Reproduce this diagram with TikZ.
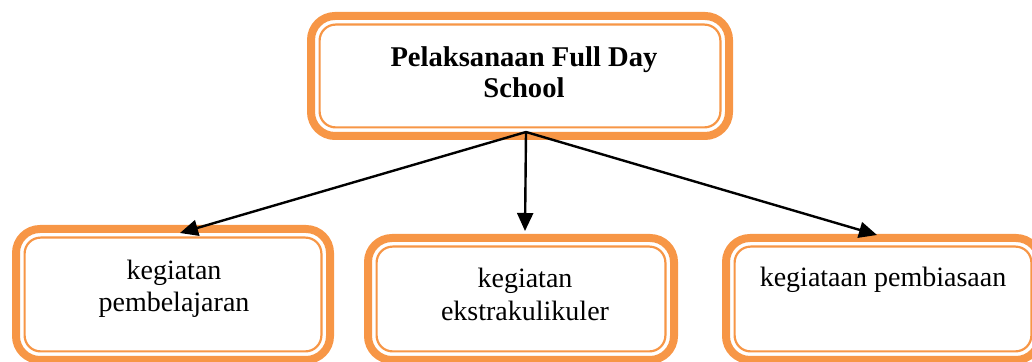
\documentclass[tikz,border=0pt]{standalone}
\usepackage{fontspec}
\setmainfont{Liberation Serif}
\usetikzlibrary{arrows.meta}
\definecolor{boxorange}{HTML}{F79646}
\tikzset{
  box/.style={draw=boxorange, line width=4pt, rounded corners=12pt, fill=white,
    inner sep=0pt, outer sep=0pt},
  innerline/.style={draw=boxorange, line width=1.1pt, rounded corners=8pt},
  lbl/.style={anchor=base, inner sep=0pt, font=\fontsize{14}{16}\selectfont},
  tlbl/.style={lbl, font=\fontsize{14.3}{16}\selectfont\bfseries},
  arr/.style={line width=1.2pt, -{Triangle[length=9pt,width=8pt]}}
}
\begin{document}
\begin{tikzpicture}[x=0.5pt,y=-0.5pt]
\useasboundingbox (0,0) rectangle (1032,362);
\clip (0,0) rectangle (1032,362);
% boxes
\node[box, minimum width=209pt, minimum height=60pt] (top) at (520,76) {};
\node[box, minimum width=157pt, minimum height=65.5pt] (left) at (173,294.5) {};
\node[box, minimum width=153pt, minimum height=61pt] (mid) at (521,299) {};
\node[box, minimum width=157pt, minimum height=61pt] (right) at (883,299) {};
\foreach \n in {top,left,mid,right}{
  \draw[innerline] ([xshift=4.3pt,yshift=-4.3pt]\n.north west) rectangle
                   ([xshift=-4.3pt,yshift=4.3pt]\n.south east);
}
% texts
\node[tlbl] (t1) at (524,67) {Pelaksanaan Full Day};
\node[tlbl] (t2) at (524,98) {School};
\node[lbl] (l1) at (174,280) {kegiatan};
\node[lbl] (l2) at (174,312) {pembelajaran};
\node[lbl] (m1) at (525,288) {kegiatan};
\node[lbl] (m2) at (525,321) {ekstrakulikuler};
\node[lbl] (r1) at (883,287) {kegiataan pembiasaan};
% connectors
\coordinate (src) at ([xshift=3pt,yshift=2pt]top.south);
\draw[arr] (src) -- ([xshift=3.5pt,yshift=-2pt]left.north);
\draw[arr] (src) -- ([xshift=2pt,yshift=3.5pt]mid.north);
\draw[arr] (src) -- ([xshift=-3pt,yshift=1.5pt]right.north);
\end{tikzpicture}
\end{document}
